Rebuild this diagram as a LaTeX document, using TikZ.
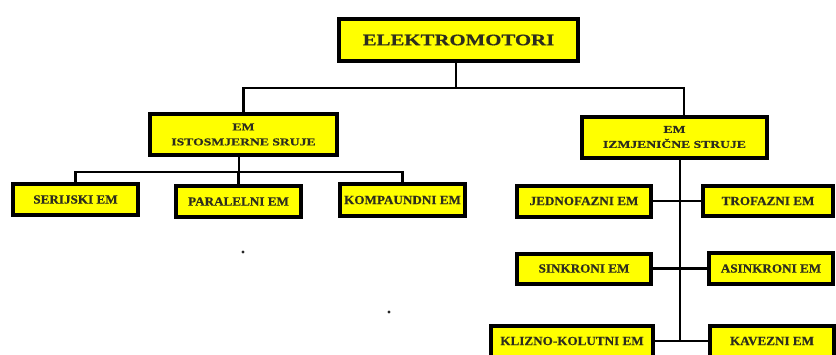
\documentclass[tikz,border=0pt]{standalone}
\usepackage{fontspec}
\setmainfont{Liberation Serif}
\newfontfamily\topfont[FakeStretch=1.3,FakeBold=0.6]{Liberation Serif}
\newfontfamily\midfont[FakeStretch=1.3,FakeBold=0.5]{Liberation Serif}
\newfontfamily\lowfont[FakeStretch=1.05,FakeBold=0.5]{Liberation Serif}
\definecolor{boxyellow}{RGB}{255,255,0}
\definecolor{txt}{RGB}{45,45,30}
\tikzset{
  box/.style={draw=black, line width=4pt, fill=boxyellow, inner sep=0pt, text=txt, align=center},
  topbox/.style={box, font=\topfont\bfseries\fontsize{16}{18}\selectfont},
  midbox/.style={box, font=\midfont\bfseries\fontsize{10.5}{15}\selectfont},
  lowbox/.style={box, font=\lowfont\bfseries\fontsize{12.5}{14}\selectfont},
  conn/.style={draw=black, line width=2.2pt},
}
\begin{document}
\begin{tikzpicture}[x=1pt,y=-1pt]
\useasboundingbox (0,0) rectangle (836,354);
\fill[white] (0,0) rectangle (836,354);
% nodes
\node[topbox, minimum width=239, minimum height=42] (top) at (458.5,40) {ELEKTROMOTORI};
\node[midbox, minimum width=187, minimum height=41] (dc) at (243.5,134.5) {EM\\ISTOSMJERNE SRUJE};
\node[midbox, minimum width=185, minimum height=41] (ac) at (674.5,137) {EM\\IZMJENIČNE STRUJE};
\node[lowbox, minimum width=125, minimum height=31] (ser) at (75.5,199.5) {SERIJSKI EM};
\node[lowbox, minimum width=125, minimum height=31] (par) at (238.5,201.5) {PARALELNI EM};
\node[lowbox, minimum width=125, minimum height=32] (kom) at (402.5,200) {KOMPAUNDNI EM};
\node[lowbox, minimum width=134, minimum height=31] (jed) at (584,201) {JEDNOFAZNI EM};
\node[lowbox, minimum width=130, minimum height=30] (tro) at (768,201) {TROFAZNI EM};
\node[lowbox, minimum width=134, minimum height=30] (sin) at (584,268.5) {SINKRONI EM};
\node[lowbox, minimum width=124, minimum height=31] (asi) at (771,268.5) {ASINKRONI EM};
\node[lowbox, minimum width=162, minimum height=31] (kli) at (572,341) {KLIZNO-KOLUTNI EM};
\node[lowbox, minimum width=124, minimum height=31] (kav) at (772,341) {KAVEZNI EM};
% coordinates
\coordinate (hub) at (456,88);
\coordinate (acdrop) at (684,88);
\coordinate (bus) at (239,172);
\coordinate (spine) at (680,341);
% connectors
\draw[conn] (top.south -| hub) -- (hub);
\draw[conn] (dc.north) |- (hub) -- (acdrop) -- (acdrop |- ac.north);
\draw[conn] (dc.south -| bus) -- (bus);
\draw[conn] (ser.north) |- (bus) -| (kom.north);
\draw[conn] (par.north) -- (par.north |- bus);
\draw[conn] (ac.south -| spine) -- (spine);
\draw[conn] (jed.east) -- (tro.west);
\draw[conn] (sin.east) -- (asi.west);
\draw[conn] (kli.east) -- (kav.west);
% stray dots
\fill[black!85] (243,252) circle (1.6);
\fill[black!85] (389,312) circle (1.6);
\end{tikzpicture}
\end{document}
